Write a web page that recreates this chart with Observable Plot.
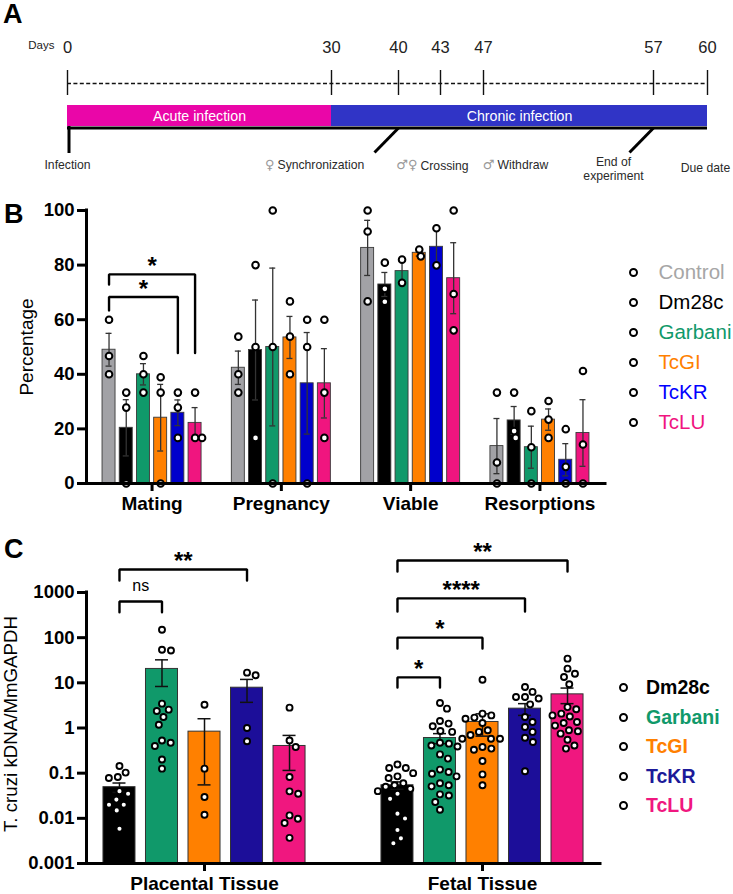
<!DOCTYPE html>
<html><head><meta charset="utf-8">
<script src="https://cdn.jsdelivr.net/npm/d3@7"></script>
<script src="https://cdn.jsdelivr.net/npm/@observablehq/plot@0.6"></script>
<style>
html,body{margin:0;padding:0;background:#fff;}
#fig{position:relative;width:733px;height:894px;overflow:hidden;font-family:"Liberation Sans",Arial,sans-serif;background:#fff;color:#000}
.panel{position:absolute;left:0}
.plabel{position:absolute;font-weight:bold;font-size:27px;line-height:27px;}
.legend{position:absolute;}
.legend .row{display:flex;align-items:center;white-space:nowrap}
.legend .dot{box-sizing:border-box;width:9px;height:9px;border:2px solid #000;border-radius:50%;background:#fff;flex:none}
</style></head><body><div id="fig"></div><script>
// ================= DATA =================
// Panel A: timeline
const dayTicks = [0, 30, 40, 43, 47, 57, 60];
const phaseLabels = ["Acute infection", "Chronic infection"];
const phaseStart = [0, 30];
const phaseEnd = [30, 60];
const eventDays = [0, 40, 43, 47, 57, 60];
const eventSymbols = ["", "♀", "♂♀", "♂", "", ""];
const eventLabels = ["Infection", "Synchronization", "Crossing", "Withdraw", "End of\nexperiment", "Due date"];
const leaderDays = [40, 57];

// Panel B: percentages
const groupsB = ["Mating", "Pregnancy", "Viable", "Resorptions"];
const strainsB = ["Control", "Dm28c", "Garbani", "TcGI", "TcKR", "TcLU"];
const meanB = [
  [49, 20.4, 40, 24.1, 25.9, 22.2],
  [42.4, 48.9, 50, 53.5, 36.7, 36.7],
  [86.3, 72.9, 77.8, 84.5, 86.7, 75.2],
  [13.7, 23.1, 13.3, 23.4, 8.7, 18.5]
];
const semB = [
  [6, 10.3, 3.9, 12.2, 4.7, 5.6],
  [6.1, 18.3, 28.9, 7.7, 18.6, 12.7],
  [10.1, 4.4, 4.3, 1.2, 6.8, 13],
  [10.1, 5.1, 7.7, 3.9, 5.9, 12.2]
];
const dotsB = [
  [[60, 46.7, 40], [33.3, 27.8, 0], [46.7, 40, 33.3], [38.9, 33.3, 0], [33.3, 27.8, 16.7], [33.3, 16.7, 16.7]],
  [[53.8, 40, 33.3], [80, 50, 16.7], [100, 50, 0], [66.7, 53.8, 40], [60, 50, 0], [60, 33.3, 16.7]],
  [[100, 92.3, 66.7], [80.9, 71.3, 66.6], [82, 73.5], [85.7, 83.2], [93.5, 79.9], [100, 69.4, 56.1]],
  [[33.3, 7.7, 0], [33.3, 19.2, 16.7], [26.5, 13.3, 0], [30.2, 23.4, 16.7], [19.9, 6.1, 0], [41.2, 14.3, 0]]
];
const yTicksB = [0, 20, 40, 60, 80, 100];
const yLabelB = "Percentage";
const bracketsB = [
  {group: "Mating", from: "Control", to: "TcLU", top: 76.6, leftEnd: 72.9, rightEnd: 47.8, label: "*"},
  {group: "Mating", from: "Control", to: "TcKR", top: 68.3, leftEnd: 63.4, rightEnd: 47.8, label: "*"}
];

// Panel C: parasite load (log)
const groupsC = ["Placental Tissue", "Fetal Tissue"];
const strainsC = ["Dm28c", "Garbani", "TcGI", "TcKR", "TcLU"];
const meanC = [
  [0.049, 20.3, 0.83, 7.8, 0.40],
  [0.054, 0.60, 1.36, 2.68, 5.56]
];
const semC = [
  [0.0115, 12.0, 0.775, 4.1, 0.285],
  [0.010, 0.15, 0.70, 0.78, 2.1]
];
const dotsC = [
  [
    [0.144, 0.103, 0.082, 0.078, 0.04, 0.035, 0.026, 0.02, 0.02, 0.015, 0.0059],
    [150, 54, 52, 3.46, 2.55, 2.38, 1.75, 1.18, 0.53, 0.47, 0.40, 0.20, 0.126],
    [3.28, 0.126, 0.0297, 0.012],
    [16.8, 14.7, 1.0, 0.507],
    [2.82, 0.53, 0.38, 0.082, 0.0396, 0.035, 0.0116, 0.0098, 0.0079, 0.0037]
  ],
  [
    [0.155, 0.13, 0.13, 0.1, 0.085, 0.078, 0.06, 0.054, 0.05, 0.045, 0.04, 0.035, 0.027, 0.0127, 0.0099, 0.0055, 0.0036, 0.0028],
    [3.58, 2.68, 1.43, 1.25, 1.09, 0.86, 0.82, 0.47, 0.45, 0.41, 0.39, 0.26, 0.21, 0.12, 0.106, 0.097, 0.085, 0.06, 0.054, 0.051, 0.034, 0.032, 0.023, 0.0155],
    [11.7, 2.08, 1.9, 1.7, 1.6, 1.29, 0.89, 0.82, 0.7, 0.58, 0.58, 0.58, 0.38, 0.35, 0.33, 0.186, 0.094, 0.054],
    [8.1, 6.3, 4.87, 4.87, 4.5, 3.34, 1.75, 1.36, 1.05, 0.82, 0.61, 0.49, 0.11],
    [34.3, 20.6, 15.9, 13.5, 9.3, 2.9, 2.6, 2.08, 1.9, 1.8, 1.36, 1.29, 1.13, 0.89, 0.85, 0.75, 0.55, 0.41, 0.35]
  ]
];
const yTicksC = [0.001, 0.01, 0.1, 1, 10, 100, 1000];
const yTickLabelsC = ["0.001", "0.01", "0.1", "1", "10", "100", "1000"];
const yLabelC = ["T. cruzi", " kDNA/MmGAPDH"];
const bracketsC = [
  {group: "Placental Tissue", from: "Dm28c", to: "Garbani", top: 632, leftEnd: 365, rightEnd: 365, label: "ns"},
  {group: "Placental Tissue", from: "Dm28c", to: "TcKR", top: 3240, leftEnd: 1840, rightEnd: 1840, label: "**"},
  {group: "Fetal Tissue", from: "Dm28c", to: "TcLU", top: 5100, leftEnd: 2920, rightEnd: 2920, label: "**"},
  {group: "Fetal Tissue", from: "Dm28c", to: "TcKR", top: 740, leftEnd: 380, rightEnd: 380, label: "****"},
  {group: "Fetal Tissue", from: "Dm28c", to: "TcGI", top: 100, leftEnd: 57.7, rightEnd: 57.7, label: "*"},
  {group: "Fetal Tissue", from: "Dm28c", to: "Garbani", top: 13.2, leftEnd: 7.9, rightEnd: 7.9, label: "*"}
];

// ================= STYLE =================
const W = 733;
const FONT = "'Liberation Sans', Arial, sans-serif";
const phaseColors = ["#ea06a8", "#3034c6"];
const colorsB = ["#a2a2a6", "#000000", "#10996a", "#ff8000", "#0000cc", "#f0157f"];
const legendColorsB = ["#a6a6a6", "#000000", "#10996a", "#ff8000", "#0000ff", "#f0157f"];
const colorsC = ["#000000", "#10996a", "#ff8000", "#1c0e99", "#f0177f"];
const legendColorsC = ["#000000", "#10996a", "#ff8000", "#1c1a99", "#f0177f"];

const fig = document.getElementById("fig");

// ---------- helpers ----------
function swarm(options, D) {
  return Plot.initializer(options, (data, facets, channels, scales) => {
    const XV = channels.x.value, YV = channels.y.value;
    const n = XV.length;
    const X = new Float64Array(n), Y = new Float64Array(n), off = new Float64Array(n);
    for (let i = 0; i < n; ++i) { X[i] = scales.x(XV[i]); Y[i] = scales.y(YV[i]); }
    for (const I of (facets ?? [d3.range(n)])) {
      for (const [, G] of d3.group(I, i => XV[i])) {
        const order = Array.from(G).sort((a, b) => Y[a] - Y[b]);
        const placed = [];
        for (const i of order) {
          const near = placed.filter(j => Math.abs(Y[i] - Y[j]) < D);
          const cands = [0];
          for (const j of near) {
            const h = Math.sqrt(D * D - (Y[i] - Y[j]) ** 2);
            cands.push(off[j] + h, off[j] - h);
          }
          cands.sort((a, b) => Math.abs(a) - Math.abs(b) || b - a);
          const c = cands.find(c => near.every(j => (c - off[j]) ** 2 + (Y[i] - Y[j]) ** 2 >= D * D - 1e-6)) ?? 0;
          off[i] = c; X[i] += c; placed.push(i);
        }
      }
    }
    return {data, facets, channels: {x: {value: X}, y: {value: Y}}};
  });
}
function midX(options) {
  return Plot.initializer(options, (data, facets, channels, scales) => {
    const X = Array.from(data, d => (scales.x(d.from) + scales.x(d.to)) / 2);
    return {data, facets, channels: {x: {value: X}}};
  });
}
function bracketPoints(brackets) {
  return brackets.flatMap((b, id) => [
    {id, group: b.group, strain: b.from, v: b.leftEnd},
    {id, group: b.group, strain: b.from, v: b.top},
    {id, group: b.group, strain: b.to, v: b.top},
    {id, group: b.group, strain: b.to, v: b.rightEnd}
  ]);
}
function place(node, top) {
  node.classList.add("panel");
  node.style.top = top + "px";
  fig.appendChild(node);
}
function panelLabel(text, left, top) {
  const d = document.createElement("div");
  d.className = "plabel"; d.textContent = text;
  d.style.left = left + "px"; d.style.top = top + "px";
  fig.appendChild(d);
}
function legend(items, colors, o) {
  const box = document.createElement("div");
  box.className = "legend";
  box.style.left = o.left + "px"; box.style.top = o.top + "px";
  items.forEach((name, i) => {
    const row = document.createElement("div");
    row.className = "row"; row.style.height = o.rowH + "px";
    const dot = document.createElement("div"); dot.className = "dot";
    const t = document.createElement("span");
    t.textContent = name; t.style.color = colors[i];
    t.style.fontSize = o.fontSize + "px"; t.style.fontWeight = o.bold ? "bold" : "normal";
    t.style.marginLeft = o.gap + "px";
    row.append(dot, t); box.appendChild(row);
  });
  fig.appendChild(box);
}
// Non-faceted overlay carrying the y axis, the two axis lines and the y label
function axisOverlay(lay, yOpts, axisOpts, labelText, labelOpts) {
  const y0 = yOpts.domain[0];
  return Plot.plot({
    width: W, height: lay.height,
    marginTop: lay.mt, marginBottom: lay.mb, marginLeft: lay.ml, marginRight: lay.mr,
    x: {domain: [0, 1], axis: null},
    y: yOpts,
    style: {fontFamily: FONT, background: "transparent"},
    marks: [
      Plot.ruleY([y0], {stroke: "#000", strokeWidth: 3, strokeLinecap: "square"}),
      Plot.ruleX([0], {stroke: "#000", strokeWidth: 3, strokeLinecap: "square"}),
      Plot.axisY({tickSize: 9, tickPadding: 3, strokeWidth: 3, fontSize: 18.5, fontWeight: "bold", label: null, ...axisOpts}),
      Plot.text([labelText], {frameAnchor: "left", textAnchor: "middle", text: d => d, rotate: -90, ariaLabel: "ylabel", ...labelOpts})
    ]
  });
}

// ================= PANEL A =================
const xA = {type: "linear", domain: dayTicks, range: [67, 331, 398, 440, 483, 653, 707]};
const sA = Plot.scale({x: xA});
const midDay = (a, b) => sA.invert((sA.apply(a) + sA.apply(b)) / 2);
const shiftDay = (d, px) => sA.invert(sA.apply(d) + px);
const rowA = {days: 45, ticks: 47, tickTop: 70, tickBottom: 95, dash: 83, barTop: 105, barBottom: 126, base: 127.5, leaderEnd: 153, labels: 164};
const phases = phaseLabels.map((label, i) => ({label, start: phaseStart[i], end: phaseEnd[i], color: phaseColors[i]}));
const events = eventDays.map((day, i) => ({day, symbol: eventSymbols[i], label: eventLabels[i]}));
const eventDx = [0, -121, -20, 14, -40, -2];
const eventDy = [0, 0, 1, 0, 4, 3];
const eventAnchor = ["middle", "start", "start", "start", "middle", "middle"];

const chartA = Plot.plot({
  width: W, height: 185, margin: 0,
  x: {...xA, axis: null},
  y: {type: "identity", axis: null},
  style: {fontFamily: FONT, background: "transparent"},
  marks: [
    Plot.text(["Days"], {x: dayTicks[0], y: rowA.days, text: d => d, textAnchor: "end", dx: -13, fontSize: 11.5, fill: "#222"}),
    Plot.text(dayTicks, {x: d => d, y: rowA.ticks, text: d => String(d), fontSize: 16.5, fill: "#222"}),
    Plot.ruleY([rowA.dash], {y: d => d, x1: dayTicks[0], x2: dayTicks[dayTicks.length - 1], stroke: "#111", strokeWidth: 1.3, strokeDasharray: "4,2.4"}),
    Plot.ruleX(dayTicks, {x: d => d, y1: rowA.tickTop, y2: rowA.tickBottom, stroke: "#111", strokeWidth: 1.4}),
    Plot.rect(phases, {x1: "start", x2: "end", y1: rowA.barTop, y2: rowA.barBottom, fill: "color"}),
    Plot.text(phases, {x: d => midDay(d.start, d.end), y: (rowA.barTop + rowA.barBottom) / 2, text: "label", fill: "white", fontSize: 14.2}),
    Plot.ruleY([rowA.base], {y: d => d, x1: dayTicks[0], x2: dayTicks[dayTicks.length - 1], stroke: "#000", strokeWidth: 3}),
    Plot.ruleX([eventDays[0]], {x: d => d, y1: rowA.barBottom, y2: rowA.leaderEnd, stroke: "#000", strokeWidth: 3, dx: 1.5}),
    Plot.link(leaderDays, {x1: d => d, x2: d => shiftDay(d, -24), y1: rowA.base, y2: rowA.leaderEnd - 1, stroke: "#000", strokeWidth: 3}),
    ...events.map((e, i) => Plot.text([e], {x: "day", y: rowA.labels + eventDy[i], text: "label", dx: eventDx[i], textAnchor: eventAnchor[i], fontSize: 12.2, fill: "#2a2a2a", lineHeight: 1.15})),
    ...events.filter(e => e.symbol).map(e => Plot.text([e], {x: "day", y: rowA.labels, text: "symbol", dx: eventDx[events.indexOf(e)] - 3, textAnchor: "end", fontSize: 13, fontFamily: "'DejaVu Sans', sans-serif", fill: "#9a9a9a"}))
  ]
});
place(chartA, 0);

// ================= PANEL B =================
const dataB = groupsB.flatMap((g, gi) => strainsB.map((s, si) => ({group: g, strain: s, mean: meanB[gi][si], sem: semB[gi][si]})));
const dotsDataB = groupsB.flatMap((g, gi) => strainsB.flatMap((s, si) => dotsB[gi][si].map(v => ({group: g, strain: s, value: v}))));
const layB = {height: 335, mt: 25, mb: 37, ml: 86, mr: 128, fxIn: 0.2, fxOut: 0.107, xIn: 0.245, xOut: 0.128};
const yOptsB = {domain: [0, 100]};

const chartB = Plot.plot({
  width: W, height: layB.height,
  marginTop: layB.mt, marginBottom: layB.mb, marginLeft: layB.ml, marginRight: layB.mr,
  fx: {domain: groupsB, paddingInner: layB.fxIn, paddingOuter: layB.fxOut, round: false},
  x: {domain: strainsB, paddingInner: layB.xIn, paddingOuter: layB.xOut, axis: null, round: false},
  y: {...yOptsB, axis: null},
  color: {domain: strainsB, range: colorsB},
  style: {fontFamily: FONT, background: "transparent"},
  marks: [
    Plot.barY(dataB, {fx: "group", x: "strain", y: "mean", fill: "strain", stroke: "#3a3a3a", strokeWidth: 0.9}),
    Plot.ruleX(dataB, {fx: "group", x: "strain", y1: d => d.mean - d.sem, y2: d => d.mean + d.sem, stroke: "#333", strokeWidth: 1.3}),
    Plot.tickY(dataB, {fx: "group", x: "strain", y: d => d.mean + d.sem, stroke: "#333", strokeWidth: 1.3, insetLeft: 3.5, insetRight: 3.5}),
    Plot.tickY(dataB, {fx: "group", x: "strain", y: d => d.mean - d.sem, stroke: "#333", strokeWidth: 1.3, insetLeft: 3.5, insetRight: 3.5}),
    Plot.dot(dotsDataB, swarm({fx: "group", x: "strain", y: "value", r: 3.3, fill: "white", stroke: "black", strokeWidth: 2}, 7)),
    Plot.line(bracketPoints(bracketsB), {fx: "group", x: "strain", y: "v", z: "id", stroke: "#000", strokeWidth: 2.4, strokeLinejoin: "miter"}),
    Plot.text(bracketsB, midX({fx: "group", x: "from", y: "top", text: "label", fontSize: 24, fontWeight: "bold", lineAnchor: "middle", dy: -8})),
    Plot.axisFx({anchor: "bottom", tickSize: 8, tickPadding: 5, strokeWidth: 3, fontSize: 19, fontWeight: "bold", label: null})
  ]
});
place(chartB, 185);
place(axisOverlay(layB, yOptsB, {ticks: yTicksB}, yLabelB, {dx: -60, fontSize: 19}), 185);

// ================= PANEL C =================
const dataC = groupsC.flatMap((g, gi) => strainsC.map((s, si) => ({group: g, strain: s, mean: meanC[gi][si], sem: semC[gi][si]})));
const dotsDataC = groupsC.flatMap((g, gi) => strainsC.flatMap((s, si) => dotsC[gi][si].map(v => ({group: g, strain: s, value: v}))));
const layC = {height: 374, mt: 72, mb: 31, ml: 86, mr: 133, fxIn: 0.237, fxOut: 0.043, xIn: 0.247, xOut: 0.118};
const yDomC = [yTicksC[0], yTicksC[yTicksC.length - 1]];
const yOptsC = {type: "log", domain: yDomC};

const chartC = Plot.plot({
  width: W, height: layC.height,
  marginTop: layC.mt, marginBottom: layC.mb, marginLeft: layC.ml, marginRight: layC.mr,
  fx: {domain: groupsC, paddingInner: layC.fxIn, paddingOuter: layC.fxOut, round: false},
  x: {domain: strainsC, paddingInner: layC.xIn, paddingOuter: layC.xOut, axis: null, round: false},
  y: {...yOptsC, axis: null},
  color: {domain: strainsC, range: colorsC},
  style: {fontFamily: FONT, background: "transparent"},
  marks: [
    Plot.barY(dataC, {fx: "group", x: "strain", y1: yDomC[0], y2: "mean", fill: "strain", stroke: "#333", strokeWidth: 1}),
    Plot.ruleX(dataC, {fx: "group", x: "strain", y1: d => d.mean - d.sem, y2: d => d.mean + d.sem, stroke: "#111", strokeWidth: 1.5}),
    Plot.tickY(dataC, {fx: "group", x: "strain", y: d => d.mean + d.sem, stroke: "#111", strokeWidth: 1.5, insetLeft: 9.5, insetRight: 9.5}),
    Plot.tickY(dataC, {fx: "group", x: "strain", y: d => d.mean - d.sem, stroke: "#111", strokeWidth: 1.5, insetLeft: 9.5, insetRight: 9.5}),
    Plot.dot(dotsDataC, swarm({fx: "group", x: "strain", y: "value", r: 3, fill: "white", stroke: "black", strokeWidth: 1.9}, 9)),
    Plot.line(bracketPoints(bracketsC), {fx: "group", x: "strain", y: "v", z: "id", stroke: "#000", strokeWidth: 2.4, strokeLinejoin: "miter"}),
    Plot.text(bracketsC.filter(b => b.label !== "ns"), midX({fx: "group", x: "from", y: "top", text: "label", fontSize: 24, fontWeight: "bold", lineAnchor: "middle", dy: -8})),
    Plot.text(bracketsC.filter(b => b.label === "ns"), midX({fx: "group", x: "from", y: "top", text: "label", fontSize: 16, lineAnchor: "middle", dy: -16})),
    Plot.axisFx({anchor: "bottom", tickSize: 8, tickPadding: 5, strokeWidth: 3, fontSize: 19, fontWeight: "bold", label: null})
  ]
});
place(chartC, 520);
const overlayC = axisOverlay(layC, yOptsC,
  {ticks: yTicksC, tickFormat: d => yTickLabelsC[yTicksC.indexOf(d)]},
  yLabelC.join(""), {dx: -75, dy: -4, fontSize: 18.7});
{
  const t = d3.select(overlayC).select('g[aria-label="ylabel"] text');
  t.text(null);
  t.append("tspan").attr("font-style", "italic").text(yLabelC[0]);
  t.append("tspan").text(yLabelC[1]);
}
place(overlayC, 520);

// ================= LABELS & LEGENDS =================
panelLabel("A", 3, 1);
panelLabel("B", 4, 201);
panelLabel("C", 4, 536);
legend(strainsB, legendColorsB, {left: 628.5, top: 257, rowH: 30, gap: 21, fontSize: 20.5, bold: false});
legend(strainsC, legendColorsC, {left: 618.5, top: 673, rowH: 29.5, gap: 18.5, fontSize: 19.5, bold: true});
</script></body></html>
